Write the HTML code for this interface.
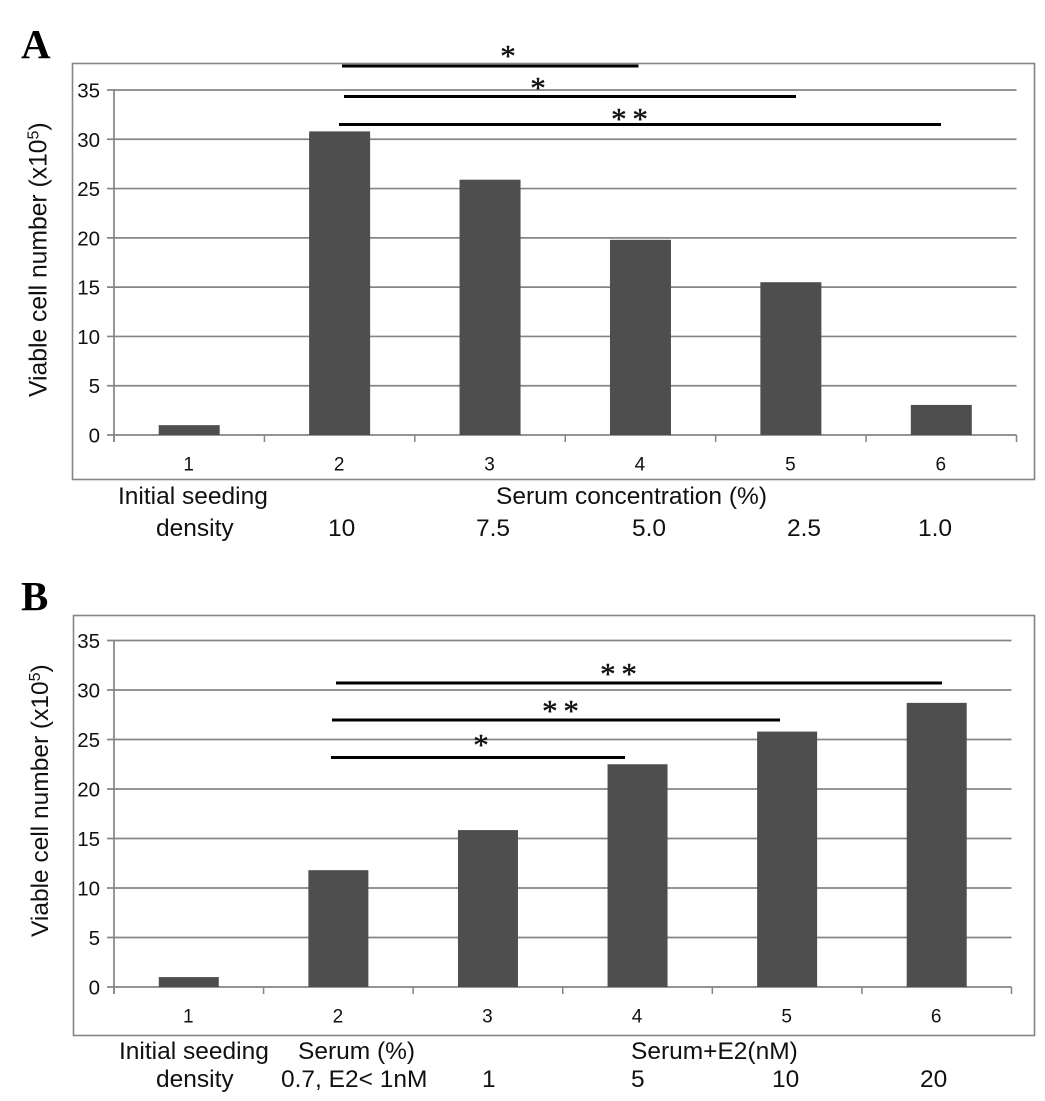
<!DOCTYPE html>
<html lang="en">
<head>
<meta charset="utf-8">
<title>Viable cell number charts</title>
<style>
html,body{margin:0;padding:0;background:#fff;}
svg{display:block;font-family:"Liberation Sans",sans-serif;}
</style>
</head>
<body>
<svg id="figure" width="1045" height="1101" viewBox="0 0 1045 1101" xmlns="http://www.w3.org/2000/svg">
  <rect width="1045" height="1101" fill="#fff"/>
  <rect x="72.5" y="63.5" width="962" height="416" fill="none" stroke="#858585" stroke-width="1.6"/>
  <rect x="73.5" y="615.5" width="961" height="420" fill="none" stroke="#858585" stroke-width="1.6"/>
  <g id="chartA"></g>
  <g id="chartB"></g>

  <text x="21" y="58" font-family="'Liberation Serif',serif" font-weight="700" font-size="41">A</text>
  <text x="21" y="610" font-family="'Liberation Serif',serif" font-weight="700" font-size="41">B</text>

  <text transform="translate(46.5,397) rotate(-90)" font-size="24.7" fill="#111">Viable cell number (x10<tspan dy="-8" font-size="16">5</tspan><tspan dy="8">)</tspan></text>
  <text transform="translate(48,937) rotate(-90)" font-size="24.5" fill="#111">Viable cell number (x10<tspan dy="-8" font-size="16">5</tspan><tspan dy="8">)</tspan></text>

  <g stroke="#000" stroke-width="3">
    <line x1="342" y1="66" x2="638.5" y2="66"/>
    <line x1="344" y1="96.5" x2="796" y2="96.5"/>
    <line x1="339" y1="124.5" x2="941" y2="124.5"/>
  </g>
  <g stroke="#000" stroke-width="3">
    <line x1="336" y1="683" x2="942" y2="683"/>
    <line x1="332" y1="720" x2="780" y2="720"/>
    <line x1="331" y1="757.5" x2="625" y2="757.5"/>
  </g>
  <g font-family="'Liberation Serif',serif" font-size="31" text-anchor="middle" fill="#111" stroke="#111" stroke-width="0.4">
    <text x="508" y="66">*</text>
    <text x="538" y="98">*</text>
    <text x="629" y="129" letter-spacing="-1">* *</text>
    <text x="618" y="684" letter-spacing="-1">* *</text>
    <text x="560" y="721" letter-spacing="-1">* *</text>
    <text x="481" y="755">*</text>
  </g>

  <g font-size="24.5" fill="#111">
    <text x="118" y="504">Initial seeding</text>
    <text x="156" y="536">density</text>
    <text x="496" y="504">Serum concentration (%)</text>
    <text x="328" y="536">10</text>
    <text x="476" y="536">7.5</text>
    <text x="632" y="536">5.0</text>
    <text x="787" y="536">2.5</text>
    <text x="918" y="536">1.0</text>
    <text x="119" y="1059">Initial seeding</text>
    <text x="156" y="1087">density</text>
    <text x="298" y="1059">Serum (%)</text>
    <text x="281" y="1087">0.7, E2&lt; 1nM</text>
    <text x="482" y="1087">1</text>
    <text x="631" y="1059">Serum+E2(nM)</text>
    <text x="631" y="1087">5</text>
    <text x="772" y="1087">10</text>
    <text x="920" y="1087">20</text>
  </g>
</svg>
<script>
const categoriesA = ["1", "2", "3", "4", "5", "6"];
const valuesA = [1.0, 30.8, 25.9, 19.8, 15.5, 3.05];
const categoriesB = ["1", "2", "3", "4", "5", "6"];
const valuesB = [1.0, 11.8, 15.85, 22.5, 25.8, 28.7];
const yTickLabels = [0, 5, 10, 15, 20, 25, 30, 35];
const yMax = 35;

const NS = "http://www.w3.org/2000/svg";

function make(parent, tag, attrs) {
  const el = document.createElementNS(NS, tag);
  for (const k in attrs) el.setAttribute(k, attrs[k]);
  parent.appendChild(el);
  return el;
}

function drawChart(group, panel, categories, values, box, barWidth) {
  const step = (box.right - box.left) / categories.length;
  const xBand = i => box.left + step * i;
  const yScale = v => box.bottom - (v / yMax) * (box.bottom - box.top);
  const axisColor = "#858585";

  yTickLabels.forEach(t => {
    const y = yScale(t);
    const grid = make(group, "line", {x1: box.left - 7, x2: box.right, y1: y, y2: y, stroke: axisColor, "stroke-width": 1.7});
    
    
    const label = make(group, "text", {x: 100, y: y + 7.5, "text-anchor": "end", "font-size": 20.5, fill: "#111"});
    
    
    label.textContent = t;
  });

  const yAxis = make(group, "line", {x1: box.left, x2: box.left, y1: box.top, y2: box.bottom + 7, stroke: axisColor, "stroke-width": 1.7});
  
  

  for (let i = 0; i <= categories.length; i++) {
    const tick = make(group, "line", {x1: xBand(i), x2: xBand(i), y1: box.bottom, y2: box.bottom + 7, stroke: axisColor, "stroke-width": 1.5});
    
    
  }

  values.forEach((v, i) => {
    const bar = make(group, "rect", {
      x: xBand(i) + (step - barWidth) / 2,
      y: yScale(v),
      width: barWidth,
      height: box.bottom - yScale(v),
      fill: "#4e4e4e"
    });
    
    
  });

  categories.forEach((c, i) => {
    const label = make(group, "text", {x: xBand(i) + step / 2 - 0.5, y: box.bottom + 35.5, "text-anchor": "middle", "font-size": 19, fill: "#111"});
    
    
    label.textContent = c;
  });
}

drawChart(document.getElementById("chartA"), "a", categoriesA, valuesA, {left: 114, right: 1016.5, top: 90, bottom: 435}, 61);
drawChart(document.getElementById("chartB"), "b", categoriesB, valuesB, {left: 114, right: 1011.5, top: 640.5, bottom: 987}, 60);
</script>
</body>
</html>
